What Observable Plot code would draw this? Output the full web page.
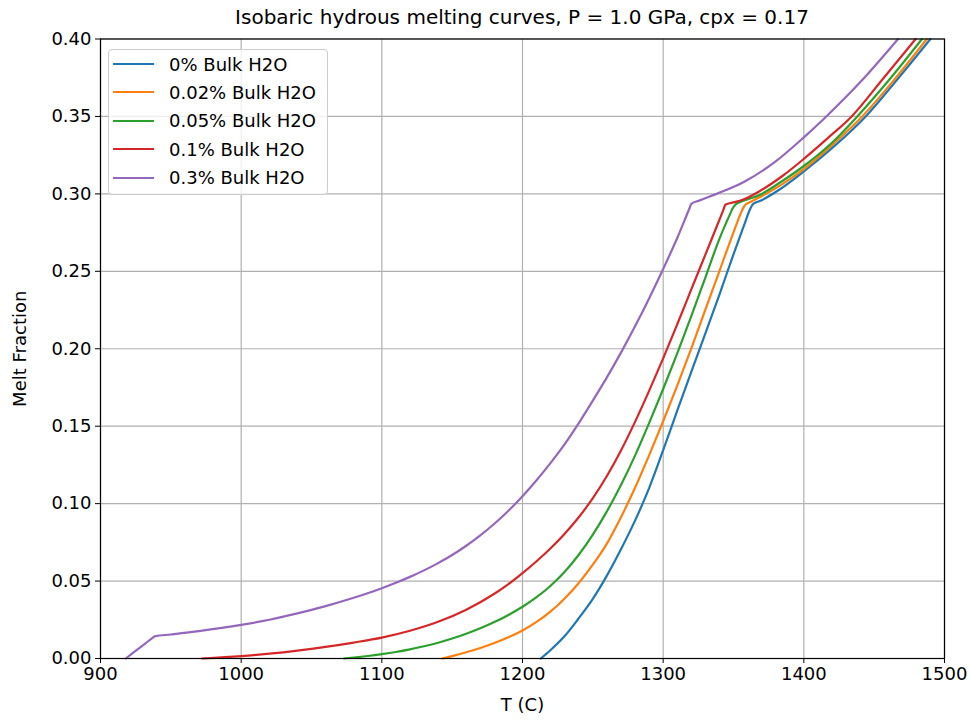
<!DOCTYPE html>
<html>
<head>
<meta charset="utf-8">
<script src="https://cdn.jsdelivr.net/npm/d3@7"></script>
<script src="https://cdn.jsdelivr.net/npm/@observablehq/plot@0.6"></script>
<style>
  body { margin: 0; background: #fff; font-family: "DejaVu Sans", sans-serif; }
  #wrap { position: relative; width: 971px; height: 721px; }
  #title { position: absolute; left: 100px; width: 844px; top: 5px; text-align: center; font-size: 20px; color: #000; white-space: nowrap; }
  #legend { position: absolute; left: 108px; top: 49px; width: 220px; height: 146px; box-sizing: border-box;
            border: 1px solid #cccccc; border-radius: 4px; background: rgba(255,255,255,0.8); }
  .row { position: absolute; left: 0; height: 20px; display: flex; align-items: center; font-size: 18px; color: #000; white-space: nowrap; }
  .swatch { display: inline-block; width: 41px; height: 2px; margin-left: 4px; margin-right: 15px; }
</style>
</head>
<body>
<div id="wrap">
  <div id="chart"></div>
  <div id="title"></div>
  <div id="legend"></div>
</div>
<script>
// ---------- data ----------
const titleText = "Isobaric hydrous melting curves, P = 1.0 GPa, cpx = 0.17";
const xLabel = "T (C)";
const yLabel = "Melt Fraction";

const seriesNames = ["0% Bulk H2O", "0.02% Bulk H2O", "0.05% Bulk H2O", "0.1% Bulk H2O", "0.3% Bulk H2O"];
const seriesColors = ["#1f77b4", "#ff7f0e", "#2ca02c", "#d62728", "#9467bd"];

const xTicks = [900, 1000, 1100, 1200, 1300, 1400, 1500];
const yTicks = [0, 0.05, 0.10, 0.15, 0.20, 0.25, 0.30, 0.35, 0.40];

// 0% Bulk H2O
const T_0 = [1213, 1220, 1230, 1240, 1250, 1260, 1270, 1280, 1290, 1300, 1310, 1320, 1330, 1340, 1350, 1358, 1361, 1364, 1369, 1383, 1400, 1420, 1444, 1467, 1490];
const F_0 = [0, 0.0055, 0.0145, 0.026, 0.0385, 0.0535, 0.0705, 0.089, 0.110, 0.1345, 0.160, 0.185, 0.210, 0.235, 0.261, 0.281, 0.2885, 0.2935, 0.2955, 0.303, 0.3145, 0.3295, 0.35, 0.3745, 0.40];
// 0.02% Bulk H2O
const T_002 = [1143, 1150, 1160, 1170, 1180, 1190, 1200, 1210, 1220, 1230, 1240, 1250, 1260, 1270, 1280, 1290, 1300, 1310, 1320, 1330, 1340, 1350, 1354, 1355.5, 1358, 1362, 1369, 1385, 1400, 1420, 1441.5, 1465, 1487.5];
const F_002 = [0, 0.0015, 0.004, 0.0068, 0.010, 0.0137, 0.0181, 0.0236, 0.0304, 0.0388, 0.0488, 0.0606, 0.0742, 0.0912, 0.1102, 0.1312, 0.1532, 0.1762, 0.2002, 0.2252, 0.2502, 0.2752, 0.2848, 0.2882, 0.2925, 0.2948, 0.298, 0.3065, 0.316, 0.3315, 0.35, 0.3745, 0.40];
// 0.05% Bulk H2O
const T_005 = [1073, 1080, 1090, 1100, 1110, 1120, 1130, 1140, 1150, 1160, 1170, 1180, 1190, 1200, 1210, 1220, 1230, 1240, 1250, 1260, 1270, 1280, 1290, 1300, 1310, 1320, 1330, 1340, 1348, 1349.3, 1352, 1357, 1369, 1385, 1400, 1420, 1438, 1461, 1484];
const F_005 = [0, 0.0006, 0.0016, 0.0028, 0.0042, 0.0059, 0.0079, 0.0102, 0.0129, 0.016, 0.0195, 0.0235, 0.0281, 0.0334, 0.0396, 0.047, 0.056, 0.067, 0.080, 0.095, 0.112, 0.131, 0.152, 0.174, 0.197, 0.221, 0.246, 0.271, 0.2879, 0.2905, 0.2935, 0.2955, 0.2995, 0.3085, 0.318, 0.333, 0.35, 0.374, 0.40];
// 0.1% Bulk H2O
const T_01 = [972, 1000, 1020, 1040, 1060, 1080, 1100, 1120, 1140, 1160, 1180, 1190, 1200, 1210, 1220, 1230, 1240, 1250, 1260, 1270, 1280, 1290, 1300, 1310, 1320, 1330, 1340, 1343, 1344.2, 1350, 1356, 1369, 1385, 1400, 1417, 1434, 1456, 1479.5];
const F_01 = [0, 0.0015, 0.0031, 0.0051, 0.0075, 0.0103, 0.0135, 0.0179, 0.0237, 0.0315, 0.0418, 0.048, 0.0551, 0.0628, 0.0712, 0.0806, 0.0912, 0.1035, 0.1178, 0.1343, 0.1528, 0.1728, 0.1938, 0.2158, 0.2383, 0.2608, 0.2833, 0.2902, 0.293, 0.2945, 0.296, 0.302, 0.3117, 0.3226, 0.336, 0.35, 0.374, 0.40];
// 0.3% Bulk H2O
const T_03 = [918, 924, 932, 937, 938.5, 950, 970, 1000, 1020, 1040, 1060, 1080, 1100, 1110, 1120, 1130, 1140, 1150, 1160, 1170, 1180, 1190, 1200, 1210, 1220, 1230, 1240, 1250, 1260, 1270, 1280, 1290, 1300, 1310, 1318.8, 1320, 1326, 1338, 1358, 1380, 1400, 1416, 1440, 1467];
const F_03 = [0, 0.0042, 0.0098, 0.0133, 0.0143, 0.0155, 0.0177, 0.0217, 0.025, 0.0291, 0.0338, 0.0392, 0.0454, 0.0489, 0.0527, 0.0569, 0.0616, 0.0668, 0.0728, 0.0795, 0.087, 0.0954, 0.1048, 0.1151, 0.1263, 0.1384, 0.152, 0.1665, 0.1815, 0.1975, 0.2145, 0.2325, 0.2515, 0.2715, 0.2909, 0.2935, 0.2958, 0.300, 0.308, 0.321, 0.3365, 0.35, 0.372, 0.40];

const seriesT = [T_0, T_002, T_005, T_01, T_03];
const seriesF = [F_0, F_002, F_005, F_01, F_03];

// ---------- build table ----------
const rows = [];
seriesNames.forEach((name, i) => {
  seriesT[i].forEach((t, j) => rows.push({series: name, T: t, f: seriesF[i][j]}));
});

const W = 971, H = 721;
const chart = Plot.plot({
  width: W,
  height: H,
  marginTop: 38.5,
  marginBottom: 63,
  marginLeft: 100,
  marginRight: 27,
  style: { fontFamily: "DejaVu Sans, sans-serif", fontSize: "18px", color: "#000", background: "#fff" },
  x: { domain: [900, 1500] },
  y: { domain: [0, 0.4] },
  color: { domain: seriesNames, range: seriesColors },
  marks: [
    Plot.gridX(xTicks, { stroke: "#b0b0b0", strokeOpacity: 1, strokeWidth: 1.2 }),
    Plot.gridY(yTicks, { stroke: "#b0b0b0", strokeOpacity: 1, strokeWidth: 1.2 }),
    Plot.line(rows, { x: "T", y: "f", z: "series", stroke: "series", strokeWidth: 2.2, curve: "monotone-x" }),
    Plot.frame({ stroke: "#000", strokeWidth: 1.2 }),
    Plot.axisX({ ticks: xTicks, tickSize: 5, tickPadding: 4, tickFormat: d3.format("d"), label: null }),
    Plot.axisY({ ticks: yTicks, tickSize: 5, tickPadding: 4, tickFormat: d3.format(".2f"), label: null }),
    Plot.text([xLabel], { frameAnchor: "bottom", dy: 47, lineAnchor: "middle", fontSize: 18 }),
    Plot.text([yLabel], { frameAnchor: "left", dx: -80, rotate: -90, lineAnchor: "middle", textAnchor: "middle", fontSize: 18 })
  ]
});
document.getElementById("chart").appendChild(chart);

document.getElementById("title").textContent = titleText;

const legend = document.getElementById("legend");
seriesNames.forEach((name, i) => {
  const row = document.createElement("div");
  row.className = "row";
  row.style.top = (4 + i * 28.4) + "px";
  const sw = document.createElement("span");
  sw.className = "swatch";
  sw.style.background = seriesColors[i];
  const lab = document.createElement("span");
  lab.textContent = name;
  row.appendChild(sw);
  row.appendChild(lab);
  legend.appendChild(row);
});
</script>
</body>
</html>
